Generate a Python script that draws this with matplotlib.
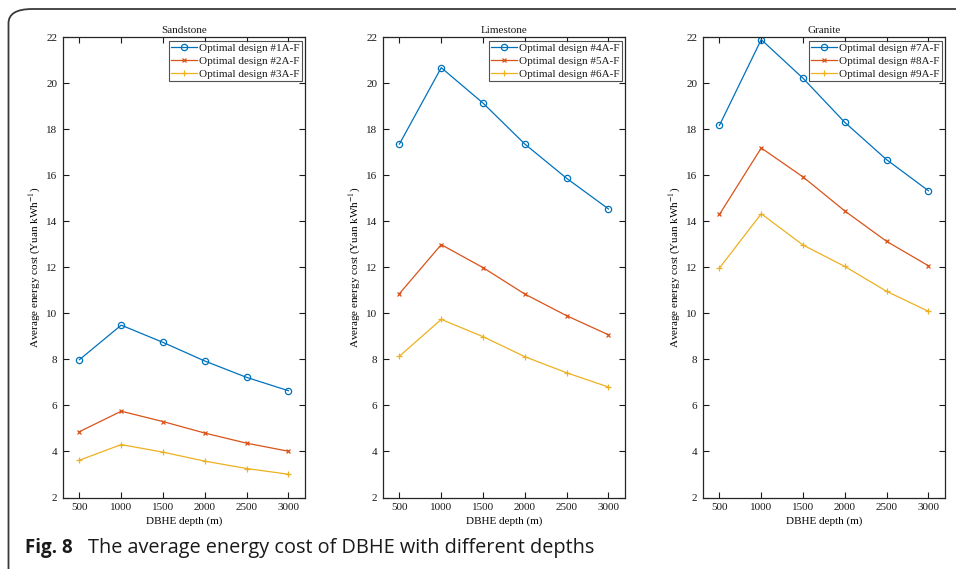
import matplotlib.pyplot as plt
from matplotlib.patches import FancyBboxPatch

# depths (m)
depth = [500, 1000, 1500, 2000, 2500, 3000]

# Sandstone
sand_1 = [7.99, 9.49, 8.74, 7.93, 7.22, 6.64]
sand_2 = [4.86, 5.75, 5.30, 4.80, 4.36, 4.01]
sand_3 = [3.62, 4.30, 3.97, 3.58, 3.26, 3.01]
# Limestone
lime_4 = [17.36, 20.68, 19.14, 17.36, 15.87, 14.54]
lime_5 = [10.86, 12.99, 11.99, 10.84, 9.90, 9.07]
lime_6 = [8.14, 9.74, 8.99, 8.12, 7.42, 6.80]
# Granite
gran_7 = [18.17, 21.90, 20.22, 18.30, 16.68, 15.33]
gran_8 = [14.30, 17.19, 15.93, 14.45, 13.13, 12.07]
gran_9 = [11.97, 14.33, 12.97, 12.04, 10.96, 10.09]

titles = ["Sandstone", "Limestone", "Granite"]
series = [
    [sand_1, sand_2, sand_3],
    [lime_4, lime_5, lime_6],
    [gran_7, gran_8, gran_9],
]
labels = [
    ["Optimal design #1A-F", "Optimal design #2A-F", "Optimal design #3A-F"],
    ["Optimal design #4A-F", "Optimal design #5A-F", "Optimal design #6A-F"],
    ["Optimal design #7A-F", "Optimal design #8A-F", "Optimal design #9A-F"],
]

colors = ["#0072BD", "#D95319", "#EDB120"]
markers = ["o", "x", "+"]
msizes = [4.5, 3.5, 5]

plt.rcParams["font.family"] = ["Liberation Serif", "DejaVu Serif"]
plt.rcParams["mathtext.fontset"] = "stix"
plt.rcParams["text.color"] = "#1a1a1a"

W, H = 956, 569
fig = plt.figure(figsize=(W / 100, H / 100), dpi=100)

lefts = [62.7, 382.7, 702.7]
ax_w = 242.5
ax_top, ax_bot = 37.3, 497.5
fs = 8

for i in range(3):
    ax = fig.add_axes([lefts[i] / W, (H - ax_bot) / H, ax_w / W, (ax_bot - ax_top) / H])
    for j in range(3):
        ax.plot(depth, series[i][j], color=colors[j], marker=markers[j],
                markersize=msizes[j], markerfacecolor="none", markeredgewidth=0.9,
                linewidth=0.9, label=labels[i][j])
    ax.set_xlim(300, 3200)
    ax.set_ylim(2, 22)
    ax.set_xticks(depth)
    ax.set_yticks(range(2, 23, 2))
    ax.tick_params(direction="in", top=True, right=True, labelsize=fs,
                   length=4, width=0.8, colors="#1a1a1a", pad=4)
    for s in ax.spines.values():
        s.set_color("#262626")
        s.set_linewidth(0.9)
    ax.set_title(titles[i], fontsize=fs, pad=3)
    ax.set_xlabel("DBHE depth (m)", fontsize=fs, labelpad=3)
    ax.set_ylabel("Average energy cost (Yuan kWh$^{-1}$)", fontsize=fs, labelpad=2)
    leg = ax.legend(loc="upper right", fontsize=fs, frameon=True, fancybox=False,
                    borderpad=0.2, labelspacing=0.3, handlelength=2.3,
                    handletextpad=0.2, borderaxespad=0.3)
    leg.get_frame().set_edgecolor("#262626")
    leg.get_frame().set_linewidth(0.8)

# card border with rounded corner
frame = FancyBboxPatch((8.5 / W, -30 / H), 1100 / W, (H - 9 + 30) / H,
                       boxstyle="round,pad=0,rounding_size=0.025",
                       transform=fig.transFigure, facecolor="none",
                       edgecolor="#3a3a3a", linewidth=1.3, clip_on=False)
fig.patches.append(frame)

# caption
fig.text(25 / W, (H - 548) / H, "Fig. 8", fontsize=13.5, fontweight="bold",
         family=["Open Sans", "DejaVu Sans"], va="center", color="#1a1a1a")
fig.text(88 / W, (H - 548) / H, "The average energy cost of DBHE with different depths",
         fontsize=14.3, family=["Open Sans", "DejaVu Sans"], va="center", color="#1a1a1a")

fig.savefig("out.png", dpi=100)
